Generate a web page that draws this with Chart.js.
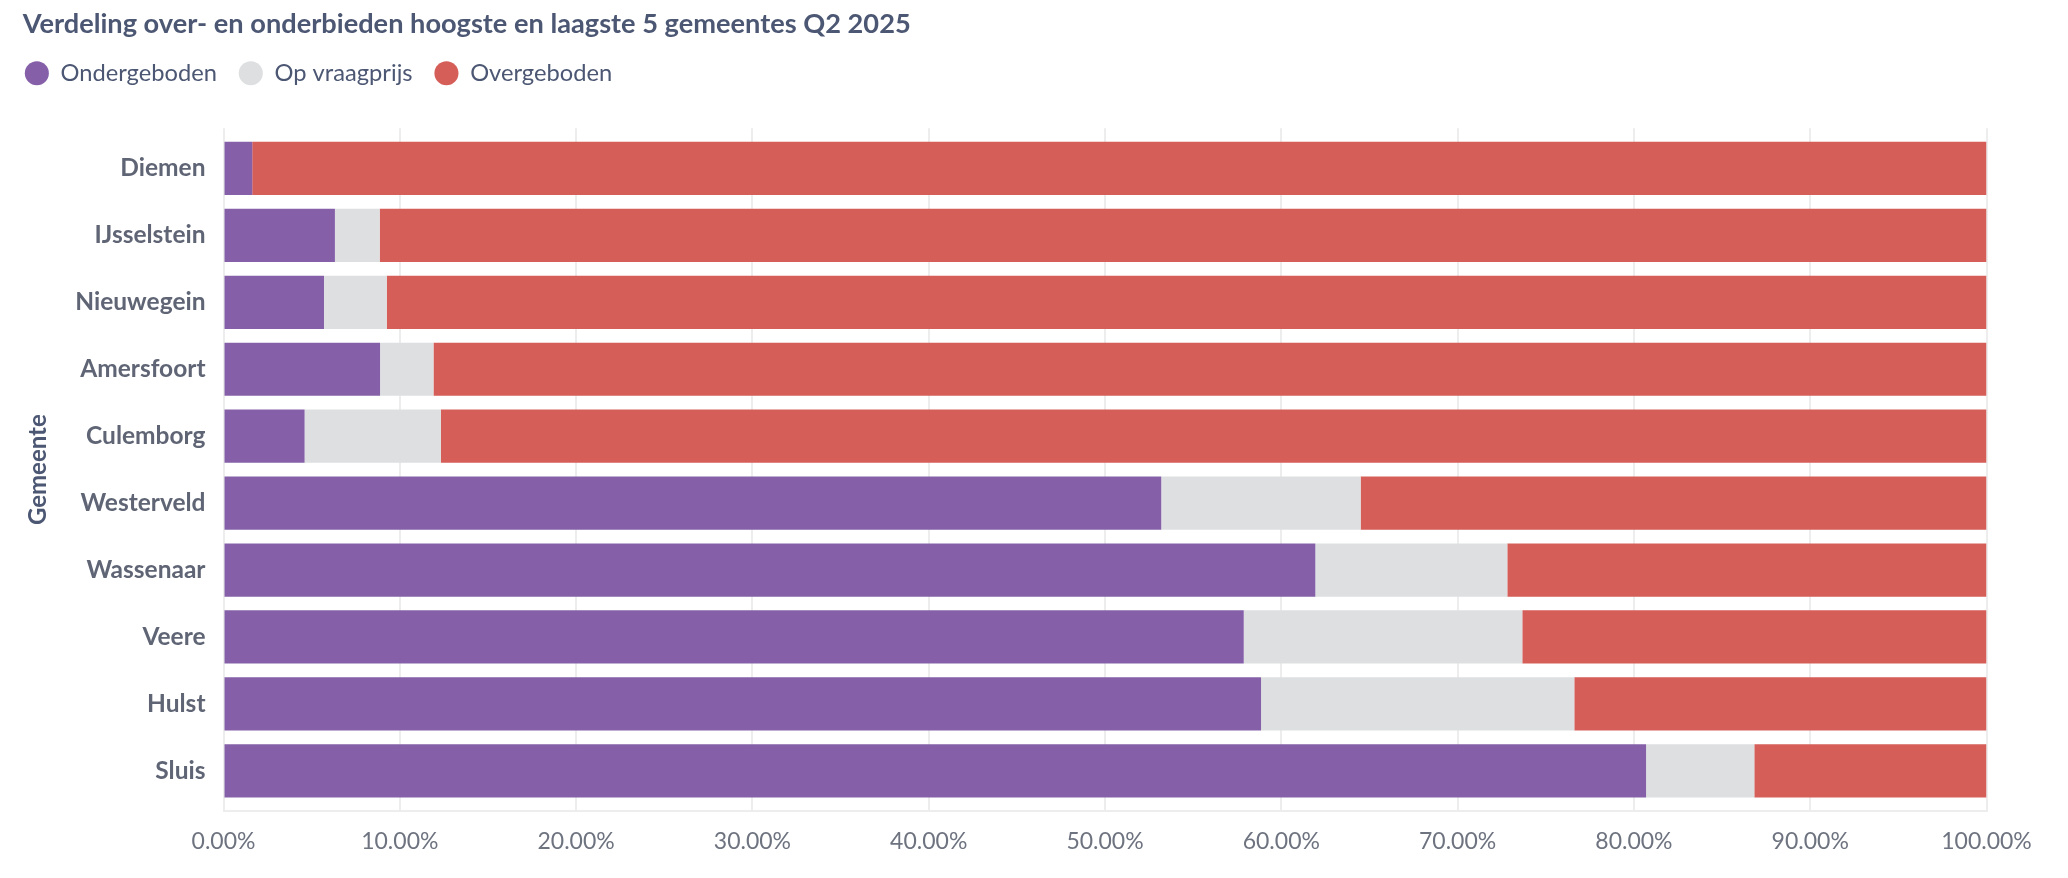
<!DOCTYPE html>
<html>
<head>
<meta charset="utf-8">
<script src="https://cdn.jsdelivr.net/npm/chart.js@4.4.1/dist/chart.umd.min.js"></script>
<style>
  body { margin: 0; background: #fff; }
  #wrap { position: relative; width: 2068px; height: 878px; }
  #title {
    position: absolute; left: 22.7px; top: 6.6px; margin: 0;
    font: bold 27.2px/1.2 Lato, sans-serif; color: #4c5773;
  }
</style>
</head>
<body>
<div id="wrap">
  <h1 id="title">Verdeling over- en onderbieden hoogste en laagste 5 gemeentes Q2 2025</h1>
  <canvas id="myChart"></canvas>
</div>
<script>
  'use strict'

  // gemeentes (van boven naar beneden)
  const gemeentes = ['Diemen', 'IJsselstein', 'Nieuwegein', 'Amersfoort', 'Culemborg',
    'Westerveld', 'Wassenaar', 'Veere', 'Hulst', 'Sluis'];

  // aandelen in procenten
  const ondergeboden = [1.63, 6.32, 5.70, 8.88, 4.60, 53.19, 61.93, 57.87, 58.85, 80.69];
  const opVraagprijs = [0.00, 2.54, 3.56, 3.03, 7.73, 11.31, 10.89, 15.80, 17.77, 6.14];
  const overgeboden = [98.37, 91.14, 90.74, 88.09, 87.67, 35.50, 27.18, 26.33, 23.38, 13.17];

  const xTicks = [0, 10, 20, 30, 40, 50, 60, 70, 80, 90, 100];

  const toPoints = (values) => values.map((v, i) => ({ x: v, y: i }));

  // extra ruimte tussen legenda en grafiek
  const legendGap = {
    id: 'legendGap',
    beforeInit(chart) {
      const fit = chart.legend.fit;
      chart.legend.fit = function () {
        fit.call(this);
        this.height += 33.1;
      };
    }
  };

  const ctx = document.getElementById('myChart').getContext('2d');
  new Chart(ctx, {
    type: 'bar',
    data: {
      datasets: [
        { label: 'Ondergeboden', data: toPoints(ondergeboden), backgroundColor: '#8560a9' },
        { label: 'Op vraagprijs', data: toPoints(opVraagprijs), backgroundColor: '#dddfe0' },
        { label: 'Overgeboden', data: toPoints(overgeboden), backgroundColor: '#d55e59' }
      ]
    },
    plugins: [legendGap],
    options: {
      indexAxis: 'y',
      responsive: true,
      maintainAspectRatio: false,
      animation: false,
      datasets: {
        bar: { categoryPercentage: 1, barPercentage: 0.795, borderWidth: 0 }
      },
      layout: { padding: { left: 3, right: 81.5, top: 39.5, bottom: 6.4 } },
      plugins: {
        title: { display: false },
        tooltip: { enabled: false },
        legend: {
          position: 'top',
          align: 'start',
          labels: {
            usePointStyle: true,
            pointStyle: 'circle',
            boxWidth: 24,
            boxHeight: 17,
            padding: 22,
            color: '#4c5773',
            font: { family: 'Lato', size: 23.7 }
          }
        }
      },
      scales: {
        x: {
          type: 'linear',
          stacked: true,
          min: 0,
          max: 100,
          afterBuildTicks: (scale) => { scale.ticks = xTicks.map(v => ({ value: v })); },
          grid: { color: '#ededed', lineWidth: 2, drawTicks: false },
          border: { display: true, color: '#ededed', width: 2 },
          ticks: {
            padding: 16.5,
            color: '#6e7380',
            font: { family: 'Lato', size: 23 },
            callback: (v) => v.toFixed(2) + '%'
          }
        },
        y: {
          type: 'linear',
          stacked: true,
          reverse: true,
          offset: false,
          min: -0.6,
          max: 9.6,
          afterFit: (scale) => {
            scale.width = 220.5;
            scale.paddingTop = 0;
            scale.paddingBottom = 0;
          },
          grid: { display: false },
          border: { display: false },
          title: {
            display: true,
            text: 'Gemeente',
            color: '#4c5773',
            font: { family: 'Lato', size: 24, weight: 'bold' },
            padding: { top: 21, bottom: 0 }
          },
          ticks: {
            stepSize: 1,
            includeBounds: false,
            autoSkip: false,
            padding: 10,
            color: '#5f6575',
            font: { family: 'Lato', size: 24.5, weight: 'bold' },
            callback: (v) => gemeentes[v]
          }
        }
      }
    }
  });
</script>
</body>
</html>
